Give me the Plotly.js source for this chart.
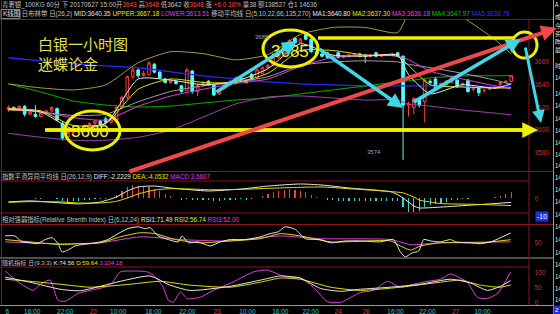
<!DOCTYPE html>
<html><head><meta charset="utf-8">
<script src="https://cdn.plot.ly/plotly-3.0.1.min.js"></script>
<style>html,body{margin:0;padding:0;background:#000;}#chart{width:560px;height:314px;}</style>
</head><body><div id="chart"></div>
<script>
// ---------- DATA ----------
const tickIdx  = [-0.2, 4.4, 10.5, 15.7, 20.3, 26.8, 33.1, 38.6, 44.2, 50.3, 55.9, 61.0, 66.2, 71.6, 77.5, 82.7, 87.7];
const tickText = ['6','16:00','22:00','22','10:00','16:00','22:00','23','10:00','16:00','22:00','24','26','16:00','22:00','27','10:00'];

const openP  = [3618,3620,3619,3621,3614,3614,3612,3615,3617,3619, 3606,3594,3598,3600,3602,3604,3606,3608,3610,3607,
  3609,3620,3629,3647,3653,3648,3649,3658,3651,3645, 3642,3643,3639,3635,3652,3634,3640,3643,3640,3632,
  3637,3640,3641,3646,3644,3649,3646,3650,3655,3657, 3664,3668,3672,3681,3677,3684,3680,3669,3667,3668,
  3664,3668,3664,3665,3666,3667,3666,3665,3668,3665, 3666,3666,3668,3665,3622,3620,3627,3625,3643,3645,
  3640,3640,3642,3644,3640,3644,3636,3637,3635,3636, 3637,3640,3642,3643];
const highP  = [3622,3621,3622,3622,3617,3622,3616,3618,3621,3620, 3608,3599,3601,3603,3605,3607,3609,3609,3612,3611,
  3621,3630,3648,3655,3654,3652,3661,3659,3652,3646, 3645,3644,3640,3655,3653,3641,3643,3644,3641,3637,
  3641,3644,3647,3647,3645,3650,3654,3656,3658,3665, 3669,3673,3680,3682,3681,3685,3681,3671,3669,3669,
  3666,3669,3666,3667,3668,3668,3667,3667,3669,3667, 3667,3668,3669,3666,3625,3629,3629,3646,3645,3647,
  3642,3644,3648,3645,3642,3645,3638,3638,3636,3638, 3639,3643,3644,3648];
const lowP   = [3616,3617,3618,3612,3613,3611,3611,3614,3616,3608, 3591,3592,3596,3598,3600,3602,3604,3603,3605,3606,
  3608,3619,3627,3645,3646,3647,3648,3650,3645,3641, 3641,3640,3633,3634,3632,3630,3638,3639,3630,3631,
  3636,3639,3640,3643,3641,3643,3645,3649,3654,3656, 3663,3667,3671,3676,3676,3679,3668,3666,3664,3663,
  3663,3663,3663,3664,3665,3664,3659,3664,3664,3664, 3665,3665,3664,3574,3612,3614,3620,3607,3640,3636,
  3637,3639,3641,3637,3639,3633,3634,3630,3633,3635, 3636,3639,3641,3642];
const closeP = [3620,3619,3621,3614,3616,3612,3615,3617,3620,3609, 3593,3598,3600,3602,3604,3606,3608,3605,3607,3609,
  3620,3629,3647,3653,3648,3650,3659,3651,3646,3642, 3643,3641,3634,3653,3634,3639,3642,3640,3631,3636,
  3640,3643,3646,3644,3642,3644,3653,3655,3657,3664, 3668,3672,3679,3677,3680,3680,3669,3667,3665,3664,
  3665,3664,3665,3666,3667,3665,3665,3666,3665,3666, 3666,3667,3665,3622,3623,3628,3622,3644,3642,3637,
  3641,3643,3647,3638,3641,3634,3637,3633,3635,3637, 3638,3642,3643,3648];

const mainX   = [0, 6, 12, 18, 24, 30, 36, 42, 48, 54, 60, 66, 72, 74, 78, 84, 90, 93];
const ma1     = [3618,3616,3601,3606,3645,3644,3640,3643,3654,3676,3666,3665,3666,3649,3632,3640,3637,3640.8];
const ma2     = [3619,3617,3604,3606,3636,3645,3642,3642,3650,3670,3670,3666,3665,3657,3640,3638,3637,3637.3];
const ma3     = [3618,3616,3611,3609,3621,3630,3636,3641,3645,3656,3664,3666,3665,3662,3652,3645,3639,3636.2];
const ma4     = [3640.7,3633.6,3625.7,3622.1,3620.4,3621.2,3623.9,3626.5,3628.3,3631.9,3635.4,3638.9,3642.5,3643.4,3646.0,3647.8,3647.8,3648.0];
const ma5     = [3663.7,3661.0,3658.4,3656.6,3654.9,3651.3,3647.8,3645.1,3642.5,3640.7,3639.8,3638.9,3638.9,3638.9,3638.9,3638.1,3638.1,3638.8];
const bollUp  = [3640.7,3637.2,3635.4,3639.8,3659.3,3669.0,3667.3,3661.9,3666.4,3684.1,3690.3,3690.3,3685.8,3701.8,3710.6,3699.1,3679.6,3667.2];
const bollMid = [3619,3616,3613,3614,3625,3634,3639,3642,3647,3657,3660,3661,3660,3658,3655,3650,3644,3640.35];
const bollLow = [3597.3,3593.8,3591.2,3591.2,3593.8,3600,3611.5,3623,3629.2,3630.1,3628.3,3626.5,3626.5,3623,3621.2,3617.7,3615,3613.5];

const macdHist = [0.2,0.3,0.2,0.1,0,-0.2,-0.1,0.1,0.2,-0.5, -1.6,-1.8,-1.7,-1.4,-1.0,-0.6,-0.3,-0.2,-0.1,0.3,
  2.0,4.0,6.5,7.5,7.4,6.8,6.8,5.5,4.0,2.5, 1.2,0.5,-0.6,-0.3,-0.9,-1.0,-0.9,-1.0,-1.4,-1.3,
  -1.1,-0.9,-0.6,-0.5,-0.6,-0.4,0.5,1.5,2.5,3.5, 4.5,5.0,5.2,4.8,4.2,3.5,2.0,1.0,0.2,-0.6,
  -0.9,-1.2,-1.4,-1.5,-1.5,-1.6,-1.7,-1.7,-1.6,-1.6, -1.5,-1.5,-1.6,-5.0,-7.5,-7.8,-7.0,-5.0,-4.0,-3.2,
  -2.5,-1.8,-1.0,-0.6,-0.3,-0.2,0.2,0.2,0.3,0.4, 0.8,1.5,2.5,3.66];
const macdX = [0,4,10,13,17,20,22,24,27,30,34,37,43,48,54,58,63,71,73,75,76,80,86,89,93];
const diff  = [-2.0,-1.4,-2.6,-3.1,-2.0,0.9,4.3,6.6,7.1,6.0,4.9,4.3,5.4,7.1,8.3,7.7,6.0,3.6,0.3,-4.3,-5.4,-4.9,-3.7,-3.1,-2.22];
const dea   = [-2.2,-1.8,-2.0,-2.6,-2.6,-1.6,0.3,2.6,4.8,5.6,5.4,5.0,5.2,5.8,6.4,6.6,5.6,3.9,3.2,0.8,-0.9,-2.9,-3.3,-3.6,-4.05];

const rsi1X = [-0.6,1.2,2.5,4.0,5.3,6.8,8.1,9.2,9.9,11.0,12.3,13.6,15.1,17.0,18.4,20.3,22.1,24.0,25.3,26.2,27.7,29.6,31.4,32.1,33.3,35.1,37.3,39.2,41.0,43.8,46.6,48.4,49.9,51.2,53.1,54.9,57.7,59.6,62.3,65.1,68.8,71.2,72.5,73.4,74.7,75.9,76.8,78.1,79.9,81.8,82.7,85.5,87.3,89.2,91.0,92.9];
const rsi1  = [65,65,52,50,48,57,61,48,30,34,43,46,48,52,57,70,81,85,81,83,65,57,52,65,50,52,43,52,57,57,63,70,74,85,79,59,57,50,54,54,52,57,30,19,28,32,57,54,52,57,52,50,48,52,61,71.49];
const rsi2X = [-0.6,4.0,9.6,13.3,17.0,20.7,24.4,27.1,30.9,35.5,41.0,46.6,50.3,54.0,59.6,70.7,72.5,74.4,76.2,79.9,87.3,92.9];
const rsi2  = [57,52,46,48,50,63,72,70,57,50,54,59,70,65,52,54,43,34,43,50,50,56.74];
const rsi3X = [-0.6,9.6,17.0,24.4,31.8,41.0,50.3,57.7,70.7,74.4,79.9,92.9];
const rsi3  = [52,48,50,63,57,54,65,59,57,46,50,52.0];

const kX = [-0.6,4.0,9.6,13.3,20.7,26.2,29.9,33.6,41.0,46.6,50.3,54.0,57.7,61.4,65.1,70.7,76.2,81.8,85.5,88.6,91.0,92.9];
const kV = [86,69,45,40,72,90,59,41,55,76,90,83,48,38,45,52,62,79,66,41,55,74.56];
const dX = [-0.6,4.0,9.6,15.1,22.5,28.1,33.6,41.0,46.6,50.3,54.0,59.6,65.1,72.5,79.9,83.6,87.3,91.0,92.9];
const dV = [79,72,62,52,62,72,59,52,69,83,79,52,41,52,69,76,59,52,59.64];
const jX = [-0.6,1.8,4.6,5.9,7.7,9.2,10.5,12.9,15.1,18.8,20.7,23.1,25.7,26.8,28.6,29.6,30.5,31.8,33.1,35.5,37.9,41.6,45.3,47.9,50.3,51.6,54.0,56.4,59.0,61.4,63.3,65.1,67.5,70.1,72.5,74.9,77.5,79.9,81.8,83.6,84.9,86.8,88.6,90.5,92.9];
const jV = [107,70,41,62,76,7,4,31,41,59,104,107,104,93,53,7,1,36,13,18,41,70,104,110,93,86,83,52,3,0,17,34,41,72,52,62,72,79,97,83,69,17,14,31,104.18];

const rightLabels = ['A','成','今','买','昨','最','时','14','14','14','14','14','14','14','14','14','14','14','14','14','14','14','14','14','14','14'];

// ---------- LAYOUT HELPERS ----------
const W = 560, H = 314;
const fx = x => x / W, fy = y => 1 - y / H;
const FONT = 'Liberation Sans, Noto Sans CJK SC, sans-serif';
const CJK = 'Noto Sans CJK SC, sans-serif';
const RED = '#ff3c3c', CYAN = '#54fcfc', YEL = '#f0f000', AXR = '#c83232', BORDER = '#8c1414';

function line(x, y, color, yaxis, w) {
  return {type:'scatter', mode:'lines', x:x, y:y, xaxis:'x', yaxis:yaxis,
          line:{color:color, width:w || 1, shape:'spline', smoothing:0.6}, hoverinfo:'skip'};
}

const traces = [
  line(mainX, ma5, '#2828ff', 'y', 1.3),
  line(mainX, ma4, '#00b400', 'y'),
  line(mainX, bollUp, '#a89a40', 'y'),
  line(mainX, bollLow, '#a040b0', 'y'),
  line(mainX, bollMid, '#a0a0a0', 'y'),
  line(mainX, ma3, '#e040e0', 'y'),
  line(mainX, ma2, '#e0e000', 'y'),
  line(mainX, ma1, '#e8e8e8', 'y'),
  {type:'candlestick', open:openP, high:highP, low:lowP, close:closeP, xaxis:'x', yaxis:'y',
   increasing:{line:{color:RED, width:1}, fillcolor:'#000000'},
   decreasing:{line:{color:CYAN, width:1}, fillcolor:CYAN},
   whiskerwidth:0, hoverinfo:'skip'},
  {type:'bar', y:macdHist, xaxis:'x', yaxis:'y2', width:0.22,
   marker:{color:macdHist.map(v => v >= 0 ? '#e04848' : '#40d0d0'), line:{width:0}}, hoverinfo:'skip'},
  line(macdX, diff, '#e8e8e8', 'y2'),
  line(macdX, dea, '#e0e000', 'y2'),
  line(rsi3X, rsi3, '#e040e0', 'y3'),
  line(rsi2X, rsi2, '#e0e000', 'y3'),
  line(rsi1X, rsi1, '#e8e8e8', 'y3'),
  line(jX, jV, '#e040e0', 'y4'),
  line(dX, dV, '#e0e000', 'y4'),
  line(kX, kV, '#e8e8e8', 'y4')
];

const tickLabels = tickText.map(t => '<span style="color:' + (t.length === 2 ? '#e03030' : '#30c8c8') + '">' + t + '</span>');

const yBase = {showgrid:false, zeroline:false, side:'right', anchor:'x', ticks:'', ticklabelstandoff:5,
               tickfont:{family:FONT, size:6.5, color:AXR}, fixedrange:true, showline:false};

function hl(y, x0, x1, color, w) { return {type:'line', xref:'paper', yref:'paper', x0:fx(x0), x1:fx(x1), y0:fy(y), y1:fy(y), line:{color:color, width:w || 1}, layer:'above'}; }
function vl(x, y0, y1, color, w) { return {type:'line', xref:'paper', yref:'paper', x0:fx(x), x1:fx(x), y0:fy(y0), y1:fy(y1), line:{color:color, width:w || 1}, layer:'above'}; }
function ell(x0, y0, x1, y1) { return {type:'circle', xref:'paper', yref:'paper', x0:fx(x0), x1:fx(x1), y0:fy(y1), y1:fy(y0), line:{color:YEL, width:3}, layer:'above'}; }

const shapes = [
  hl(19.5, 0, 553, BORDER), hl(171.5, 0, 553, BORDER), hl(181, 0, 529, BORDER), hl(213, 0, 529, BORDER),
  hl(224.5, 0, 553, BORDER), hl(258, 0, 553, '#9a9a9a'), hl(267, 0, 529, BORDER), hl(305.5, 0, 553, '#9a9a9a'),
  vl(529, 19.5, 305.5, BORDER), vl(1.5, 0, 305.5, BORDER), vl(553.5, 0, 314, '#9a9a9a'),
  {type:'rect', xref:'paper', yref:'paper', x0:fx(1), x1:fx(20), y0:fy(18.5), y1:fy(9.5), line:{color:'#a0a0a0', width:0.8}, layer:'above'},
  // user drawings
  hl(130, 45, 526, YEL, 3.5), hl(38, 318, 515, YEL, 3.5),
  ell(65, 111, 120, 150), ell(263, 30, 318, 67), ell(512, 32, 537, 58)
];

function txt(x, y, text, size, color, family, anchor) {
  return {xref:'paper', yref:'paper', x:fx(x), y:fy(y), text:text, showarrow:false,
          xanchor:anchor || 'left', yanchor:'middle', font:{family:family || FONT, size:size, color:color}, borderpad:0};
}
function arrow(x0, y0, x1, y1, color, w, sz) {
  return {xref:'paper', yref:'paper', x:fx(x1), y:fy(y1), ax:x0 - x1, ay:y0 - y1, text:'', showarrow:true,
          arrowhead:2, arrowsize:sz || 0.85, arrowwidth:w, arrowcolor:color, standoff:0};
}
const s = (t, c) => '<span style="color:' + c + '">' + t + '</span>';
const G = '#c0c0c0', R = '#ff4848';

const annotations = [
  txt(1, 4.5, s('青奢银_100KG 60分 下 20170627 15:00开', G) + s('3643', R) + s(' 高', G) + s('3648', R) + s(' 低3642 收', G) + s('3648', R) + s(' 涨 ', G) + s('+6 0.16%', R) + s(' 量38 额138527 仓1 14636', G), 6.4, G),
  txt(2, 14, s('K线图', '#e0e0e0') + s(' 日布林带 日(26,2) ', G) + s('MID:3640.35 ', '#e0e0e0') + s('UPPER:3667.18 ', '#e8e800') +
      s('LOWER:3613.51 ', '#e040e0') + s('移动平均线 日(5,10,22,66,135,270) ', G) + s('MA1:3640.80 ', '#e8e8e8') +
      s('MA2:3637.30 ', '#e8e800') + s('MA3:3636.18 ', '#e040e0') + s('MA4:3647.97 ', '#00c800') + s('MA5:3638.76', '#3030ff'), 6.4, G),
  txt(1, 176.5, s('指数平滑异同平均线 日(26,12,9) ', G) + s('DIFF:-2.2229 ', '#e8e8e8') + s('DEA:-4.0532 ', '#e8e800') + s('MACD:3.6607', '#e040e0'), 6.3, G),
  txt(1, 219.5, s('相对强弱指标(Relative Strenth Index) 日(6,12,24) ', G) + s('RSI1:71.49 ', '#e8e8e8') + s('RSI2:56.74 ', '#e8e800') + s('RSI3:52.00', '#e040e0'), 6.3, G),
  txt(1, 262.5, s('随机指标 日(9,3,3) ', G) + s('K:74.56 ', '#e8e8e8') + s('D:59.64 ', '#e8e800') + s('J:104.18', '#e040e0'), 6.1, G),
  // drawing texts
  txt(37, 44, '白银一小时图', 15, '#e0e050', CJK),
  txt(37, 63, '迷蝶论金', 15, '#e0e050', CJK),
  txt(90, 131, '3600', 17, '#f0f030', FONT, 'center'),
  txt(290, 52, '3685', 17, '#f0f030', FONT, 'center'),
  txt(254, 37, '3685', 6, '#a0a0a0'),
  txt(366, 152, '3574', 6, '#a0a0a0'),
  {xref:'paper', yref:'paper', x:fx(542), y:fy(216), text:'-10', showarrow:false, xanchor:'center', yanchor:'middle',
   font:{family:FONT, size:7, color:'#ffffff'}, bgcolor:'#2030e0', borderpad:1},
  {xref:'paper', yref:'paper', x:fx(556.5), y:fy(310), text:'2', showarrow:false, xanchor:'center', yanchor:'middle',
   font:{family:FONT, size:6, color:'#ffffff'}, bgcolor:'#2030e0', borderpad:1},
  // arrows
  arrow(45, 130, 538, 130, YEL, 3.5, 0.9),
  arrow(128, 172, 557, 28, '#f04848', 4, 0.8),
  arrow(215, 93, 297, 41, '#40d8e8', 3.5),
  arrow(318, 48, 403, 108, '#40d8e8', 3.5),
  arrow(412, 103, 521, 39, '#40d8e8', 3.5),
  arrow(525, 46, 541, 123, '#40d8e8', 3)
];
const rightY = [5,17,26,34,42,50,65,78,93,106,118,130,142,154,165,177,189,201,214,227,239,252,264,276,288,299];
rightLabels.forEach((t, i) => annotations.push(txt(553.8, rightY[i], t, 5.8, '#e8e8e8', CJK)));

const layout = {
  width: W, height: H, margin:{l:0, r:0, t:0, b:0},
  paper_bgcolor:'#000000', plot_bgcolor:'#000000', showlegend:false, bargap:0,
  xaxis:{domain:[fx(3), fx(528.5)], range:[-1, 96.2], anchor:'y4', showgrid:false, zeroline:false,
         tickvals:tickIdx, ticktext:tickLabels, ticks:'', tickfont:{family:FONT, size:6.5, color:'#30c8c8'},
         rangeslider:{visible:false}, fixedrange:true, ticklabelstandoff:1},
  yaxis: Object.assign({}, yBase, {domain:[fy(171.5), fy(19.5)], range:[3563.7, 3697.3], tickvals:[3580,3600,3620,3640,3660]}),
  yaxis2:Object.assign({}, yBase, {domain:[fy(213), fy(181)], range:[-8.3, 10], tickvals:[0]}),
  yaxis3:Object.assign({}, yBase, {domain:[fy(258), fy(224.5)], range:[16.7, 90], tickvals:[50]}),
  yaxis4:Object.assign({}, yBase, {domain:[fy(305.5), fy(267)], range:[-10.3, 120.7], tickvals:[0,50,100]}),
  shapes: shapes,
  annotations: annotations
};

Plotly.newPlot('chart', traces, layout, {staticPlot:true, displayModeBar:false});
</script>
</body></html>
